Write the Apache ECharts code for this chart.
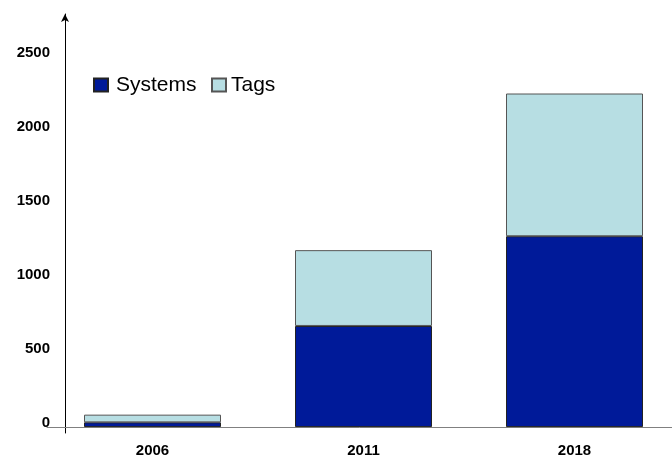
<!DOCTYPE html>
<html>
<head>
<meta charset="utf-8">
<script src="https://cdn.jsdelivr.net/npm/echarts@6/dist/echarts.min.js"></script>
<style>html,body{margin:0;padding:0;background:#fff}#c{width:672px;height:457px}</style>
</head>
<body>
<div id="c"></div>
<script>
const categories = ['2006', '2011', '2018'];
const systems = [32, 683, 1289];
const tags = [52, 512, 964];
const yTicks = [0, 500, 1000, 1500, 2000, 2500];

const chart = echarts.init(document.getElementById('c'), null, {renderer: 'canvas'});
chart.setOption({
  animation: false,
  backgroundColor: '#fff',
  grid: {left: 47, right: -8, top: 14, bottom: 24, containLabel: false, outerBoundsMode: 'none'},
  legend: [
    {data: ['Systems'], left: 93, top: 74, padding: 0, itemWidth: 14, itemHeight: 13, icon: 'rect',
     textStyle: {fontFamily: 'Liberation Sans', fontSize: 21, color: '#000', lineHeight: 22, padding: [0,0,0,3]}},
    {data: ['Tags'], left: 211, top: 74, padding: 0, itemWidth: 14, itemHeight: 13, icon: 'rect',
     textStyle: {fontFamily: 'Liberation Sans', fontSize: 21, color: '#000', lineHeight: 22}}
  ],
  xAxis: {
    type: 'category',
    data: categories,
    axisLine: {onZero: true, lineStyle: {color: '#808080', width: 1}},
    axisTick: {show: false},
    axisLabel: {margin: 10, fontFamily: 'Liberation Sans', fontWeight: 'bold', fontSize: 15, color: '#000'}
  },
  yAxis: {
    type: 'value',
    min: -40,
    max: 2790,
    offset: -18,
    splitLine: {show: false},
    axisTick: {show: false},
    axisLine: {show: true, symbol: ['none', 'arrow'], symbolSize: [6, 8], lineStyle: {color: '#000', width: 1}},
    axisLabel: {
      customValues: yTicks,
      formatter: v => String(v),
      margin: 15,
      verticalAlign: 'bottom',
      lineHeight: 9,
      fontFamily: 'Liberation Sans', fontWeight: 'bold', fontSize: 15, color: '#000'
    }
  },
  series: [
    {name: 'Systems', type: 'bar', stack: 'a', data: systems, barWidth: 137,
     itemStyle: {color: '#001A99', borderColor: '#222', borderWidth: 1}},
    {name: 'Tags', type: 'bar', stack: 'a', data: tags, barWidth: 137,
     itemStyle: {color: '#B7DEE3', borderColor: '#555', borderWidth: 1}}
  ]
});
</script>
</body>
</html>
